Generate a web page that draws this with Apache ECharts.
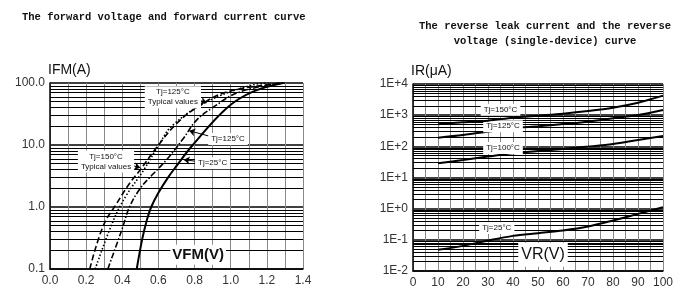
<!DOCTYPE html>
<html>
<head>
<meta charset="utf-8">
<script src="https://cdn.jsdelivr.net/npm/echarts@6/dist/echarts.min.js"></script>
<style>
html, body { margin: 0; padding: 0; background: #fff; }
#chart { width: 700px; height: 306px; }
</style>
</head>
<body>
<div id="chart"></div>
<script>
// forward curves: [VFM (V), IFM (A)]
const vf150Typ = [[0.22, 0.1], [0.295, 0.5], [0.37, 1.15], [0.44, 2.4], [0.50, 4], [0.60, 10], [0.70, 22], [0.81, 40], [0.98, 72], [1.30, 100]];
const vf125Typ = [[0.25, 0.1], [0.35, 0.6], [0.42, 1.5], [0.52, 4], [0.61, 11], [0.68, 21], [0.87, 50], [1.12, 93], [1.22, 100]];
const vf125 = [[0.32, 0.1], [0.40, 0.45], [0.44, 1.0], [0.50, 2.0], [0.57, 3.4], [0.65, 6.0], [0.74, 13], [0.81, 25], [0.90, 40], [1.04, 70], [1.27, 100]];
const vf25 = [[0.48, 0.1], [0.51, 0.3], [0.535, 0.6], [0.56, 1.0], [0.60, 1.7], [0.65, 2.9], [0.70, 4.6], [0.79, 10], [0.98, 40], [1.12, 72], [1.29, 100]];

// reverse curves: VR (V) and IR (uA)
const vr = [10, 20, 30, 40, 50, 60, 70, 80, 90, 100];
const ir150 = [513, 590, 665, 830, 965, 1120, 1360, 1740, 2520, 4240];
const ir125 = [190, 232, 296, 380, 440, 522, 620, 794, 1010, 1468];
const ir100 = [28.6, 36.6, 46.9, 60, 71, 82.6, 98, 119, 160, 215];
const ir25 = [0.048, 0.064, 0.095, 0.134, 0.164, 0.2, 0.267, 0.417, 0.68, 1.11];

// annotations
const leftNotes = [
  { text: 'Tj=125°C\nTypical values', at: [0.68, 59] },
  { text: 'Tj=125°C', at: [0.985, 12.5] },
  { text: 'Tj=25°C', at: [0.90, 5.1] },
  { text: 'Tj=150°C\nTypical values', at: [0.31, 5.4] }
];
const leftArrows = [
  [[0.79, 57], [0.867, 48]],
  [[0.897, 13.5], [0.77, 17]],
  [[0.82, 5.4], [0.74, 5.8]],
  [[0.43, 4.9], [0.50, 4.3]]
];
const rightNotes = [
  { text: 'Tj=150°C', at: [35, 1480] },
  { text: 'Tj=125°C', at: [36, 445] },
  { text: 'Tj=100°C', at: [36, 89] },
  { text: 'Tj=25°C', at: [33.5, 0.24] }
];

const NARROW = "'Liberation Sans Narrow', 'Liberation Sans', Arial, sans-serif";
const MONO = "'Liberation Mono', 'DejaVu Sans Mono', monospace";

function logMinors(loExp, hiExp) {
  const out = [];
  for (let e = loExp; e < hiExp; e++) {
    for (let k = 2; k <= 9; k++) out.push(+(k * Math.pow(10, e)).toPrecision(3));
  }
  return out;
}

function minorGrid(loExp, hiExp) {
  return {
    symbol: 'none', silent: true, animation: false,
    label: { show: false },
    lineStyle: { color: '#000', width: 1, type: 'solid' },
    emphasis: { disabled: true },
    data: logMinors(loExp, hiExp).map(v => ({ yAxis: v }))
  };
}

function notes(list, extra) {
  const data = list.map(n => ({ name: n.text, coord: n.at }));
  if (extra) data.push(extra);
  return {
    symbol: 'rect', symbolSize: 1, silent: true, animation: false,
    itemStyle: { color: 'rgba(0,0,0,0)' },
    label: {
      show: true, position: 'inside', formatter: p => p.name,
      fontFamily: NARROW, fontSize: 8, lineHeight: 10, color: '#111',
      backgroundColor: '#fff', padding: [1, 3], align: 'center'
    },
    data: data
  };
}

const chart = echarts.init(document.getElementById('chart'));

const tickFont = { fontFamily: NARROW, fontSize: 12, color: '#333' };
const nameFont = { fontFamily: NARROW, fontSize: 14, color: '#111', align: 'left', padding: [0, 0, 0, -2] };

chart.setOption({
  animation: false,
  title: [
    {
      text: 'The forward voltage and forward current curve',
      left: 17, top: 7,
      textStyle: { fontFamily: MONO, fontSize: 10.5, fontWeight: 'bold', color: '#111' }
    },
    {
      text: 'The reverse leak current and the reverse\nvoltage (single-device) curve',
      left: 540, top: 14, textAlign: 'center',
      textStyle: { fontFamily: MONO, fontSize: 10.5, fontWeight: 'bold', color: '#111', lineHeight: 15, align: 'center' }
    }
  ],
  grid: [
    { left: 50, top: 83, width: 253, height: 186 },
    { left: 413, top: 84, width: 250, height: 187 }
  ],
  xAxis: [
    {
      gridIndex: 0, type: 'value', min: 0, max: 1.4, interval: 0.1,
      axisLine: { lineStyle: { color: '#000', width: 1.5 } },
      axisTick: { show: false },
      axisLabel: Object.assign({ margin: 6, formatter: v => (Math.round(v * 10) % 2 === 0 ? v.toFixed(1) : '') }, tickFont),
      splitLine: { lineStyle: { color: '#8a8a8a', width: 1 } }
    },
    {
      gridIndex: 1, type: 'value', min: 0, max: 100, interval: 5,
      axisLine: { lineStyle: { color: '#000', width: 1.5 } },
      axisTick: { show: false },
      axisLabel: Object.assign({ margin: 6, formatter: v => (v % 10 === 0 ? String(v) : '') }, tickFont),
      splitLine: { lineStyle: { color: '#8a8a8a', width: 1 } }
    }
  ],
  yAxis: [
    {
      gridIndex: 0, type: 'log', logBase: 10, min: 0.1, max: 100,
      name: 'IFM(A)', nameLocation: 'end', nameGap: 4, nameTextStyle: nameFont,
      axisLine: { lineStyle: { color: '#000', width: 1.5 } },
      axisTick: { show: false },
      axisLabel: Object.assign({ margin: 5, formatter: v => Number(v).toFixed(1) }, tickFont),
      splitLine: { lineStyle: { color: '#000', width: 1.5 } }
    },
    {
      gridIndex: 1, type: 'log', logBase: 10, min: 0.01, max: 10000,
      name: 'IR(μA)', nameLocation: 'end', nameGap: 4, nameTextStyle: nameFont,
      axisLine: { lineStyle: { color: '#000', width: 1.5 } },
      axisTick: { show: false },
      axisLabel: Object.assign({
        margin: 5,
        formatter: v => {
          const e = Math.round(Math.log10(v));
          return '1E' + (e >= 0 ? '+' : '-') + Math.abs(e);
        }
      }, tickFont),
      splitLine: { lineStyle: { color: '#000', width: 1.5 } }
    }
  ],
  series: [
    {
      name: 'Tj=25°C', type: 'line', xAxisIndex: 0, yAxisIndex: 0, z: 3,
      data: vf25, smooth: 0.4, showSymbol: false,
      lineStyle: { color: '#000', width: 2 },
      markLine: minorGrid(-1, 2)
    },
    {
      name: 'Tj=150°C Typical', type: 'line', xAxisIndex: 0, yAxisIndex: 0, z: 4,
      data: vf150Typ, smooth: 0.4, showSymbol: false,
      lineStyle: { color: '#000', width: 1.6, type: [6, 3] },
      markLine: {
        symbol: ['none', 'arrow'], symbolSize: 6, silent: true, animation: false,
        label: { show: false },
        lineStyle: { color: '#000', width: 1, type: 'solid' },
        data: leftArrows.map(a => [{ coord: a[0] }, { coord: a[1] }])
      }
    },
    {
      name: 'Tj=125°C Typical', type: 'line', xAxisIndex: 0, yAxisIndex: 0, z: 4,
      data: vf125Typ, smooth: 0.4, showSymbol: false,
      lineStyle: { color: '#000', width: 1.6, type: [1.5, 2] }
    },
    {
      name: 'Tj=125°C', type: 'line', xAxisIndex: 0, yAxisIndex: 0, z: 5,
      data: vf125, smooth: 0.4, showSymbol: false,
      lineStyle: { color: '#000', width: 1.6, type: [6, 2, 1.5, 2] },
      markPoint: notes(leftNotes, {
        name: 'VFM(V)', coord: [0.82, 0.17],
        label: { fontSize: 15, fontWeight: 'bold', lineHeight: 18, padding: [1, 2], color: '#111' }
      })
    },
    {
      name: 'IR Tj=25°C', type: 'line', xAxisIndex: 1, yAxisIndex: 1, z: 3,
      data: vr.map((x, i) => [x, ir25[i]]), smooth: 0.3, showSymbol: false,
      lineStyle: { color: '#000', width: 2 },
      markLine: minorGrid(-2, 4)
    },
    {
      name: 'IR Tj=100°C', type: 'line', xAxisIndex: 1, yAxisIndex: 1, z: 3,
      data: vr.map((x, i) => [x, ir100[i]]), smooth: 0.3, showSymbol: false,
      lineStyle: { color: '#000', width: 2 }
    },
    {
      name: 'IR Tj=125°C', type: 'line', xAxisIndex: 1, yAxisIndex: 1, z: 3,
      data: vr.map((x, i) => [x, ir125[i]]), smooth: 0.3, showSymbol: false,
      lineStyle: { color: '#000', width: 2 }
    },
    {
      name: 'IR Tj=150°C', type: 'line', xAxisIndex: 1, yAxisIndex: 1, z: 5,
      data: vr.map((x, i) => [x, ir150[i]]), smooth: 0.3, showSymbol: false,
      lineStyle: { color: '#000', width: 2 },
      markPoint: notes(rightNotes, {
        name: 'VR(V)', coord: [52, 0.033],
        label: { fontSize: 16, lineHeight: 20, padding: [2, 3], color: '#111' }
      })
    }
  ]
});
</script>
</body>
</html>
